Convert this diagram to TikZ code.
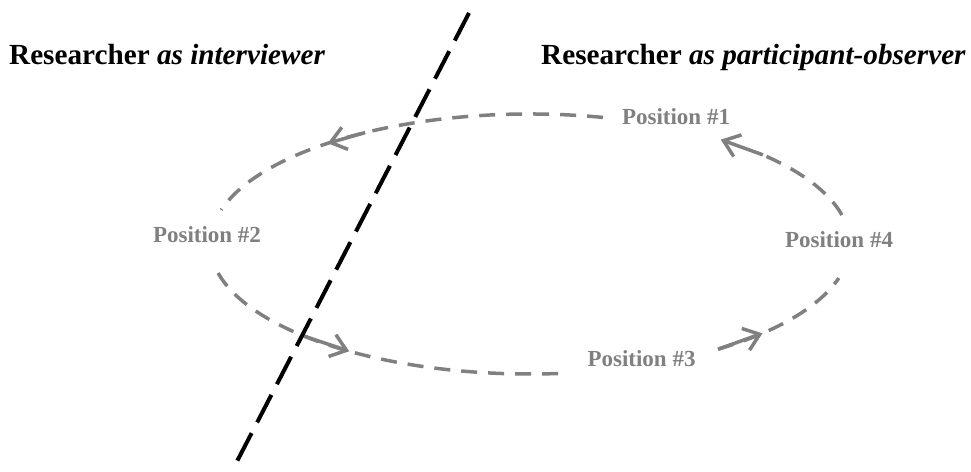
\documentclass[tikz,border=0pt]{standalone}
\usepackage{fontspec}
\setmainfont{Liberation Serif}
\usetikzlibrary{arrows.meta}
\definecolor{cgray}{RGB}{128,128,128}
\begin{document}
\begin{tikzpicture}[x=1pt,y=1pt,
  orbit/.style={draw=cgray, line width=3.5pt, dash pattern=on 16pt off 11pt},
  flow/.style={draw=cgray, line width=3.5pt, -{Straight Barb[length=15pt,width=23pt]}},
  divider/.style={draw=black, line width=4pt, dash pattern=on 31pt off 12pt},
  poslabel/.style={text=cgray, font=\fontsize{23}{26}\selectfont\bfseries, inner sep=0pt, anchor=base},
  titlelabel/.style={font=\fontsize{29.2}{32}\selectfont\bfseries, inner sep=0pt, anchor=base west}]
\useasboundingbox (0,0) rectangle (971,471);
\coordinate (C) at (530,227);
% dashed orbit pieces
\draw[orbit] ([shift={(76.8:320pt and 130pt)}]C) arc[start angle=76.8, end angle=164.8, x radius=320pt, y radius=130pt];
\draw[orbit] ([shift={(192.9:320pt and 130pt)}]C) arc[start angle=192.9, end angle=276.3, x radius=320pt, y radius=130pt];
\draw[orbit] ([shift={(-54:320pt and 130pt)}]C) arc[start angle=-54, end angle=-15.2, x radius=320pt, y radius=130pt];
\draw[orbit] ([shift={(12.9:320pt and 130pt)}]C) arc[start angle=12.9, end angle=43.3, x radius=320pt, y radius=130pt];
% arrows
\coordinate (a1s) at ([shift={(121:320pt and 130pt)}]C);
\coordinate (a1e) at ([shift={(129.2:320pt and 130pt)}]C);
\coordinate (a2s) at ([shift={(225.3:320pt and 130pt)}]C);
\coordinate (a2e) at ([shift={(235.6:320pt and 130pt)}]C);
\coordinate (a3s) at ([shift={(-54:320pt and 130pt)}]C);
\coordinate (a3e) at ([shift={(-43.4:320pt and 130pt)}]C);
\coordinate (a4s) at ([shift={(43.3:320pt and 130pt)}]C);
\coordinate (a4e) at ([shift={(53.4:320pt and 130pt)}]C);
\draw[flow] (a1s) -- (a1e);
\draw[flow] (a2s) -- (a2e);
\draw[flow] (a3s) -- (a3e);
\draw[flow] (a4s) -- (a4e);
% labels
\node[poslabel] (p1) at (676,346) {Position \#1};
\node[poslabel] (p2) at (207,228) {Position \#2};
\node[poslabel] (p3) at (641.5,104) {Position \#3};
\node[poslabel] (p4) at (839,223) {Position \#4};
\node[titlelabel] (t1) at (9,406) {Researcher \textit{as interviewer}};
\node[titlelabel] (t2) at (541,406) {Researcher \textit{as participant-observer}};
% divider
\coordinate (d1) at (469,458);
\coordinate (d2) at (232,0);
\draw[divider] (d1) -- (d2);
\end{tikzpicture}
\end{document}
